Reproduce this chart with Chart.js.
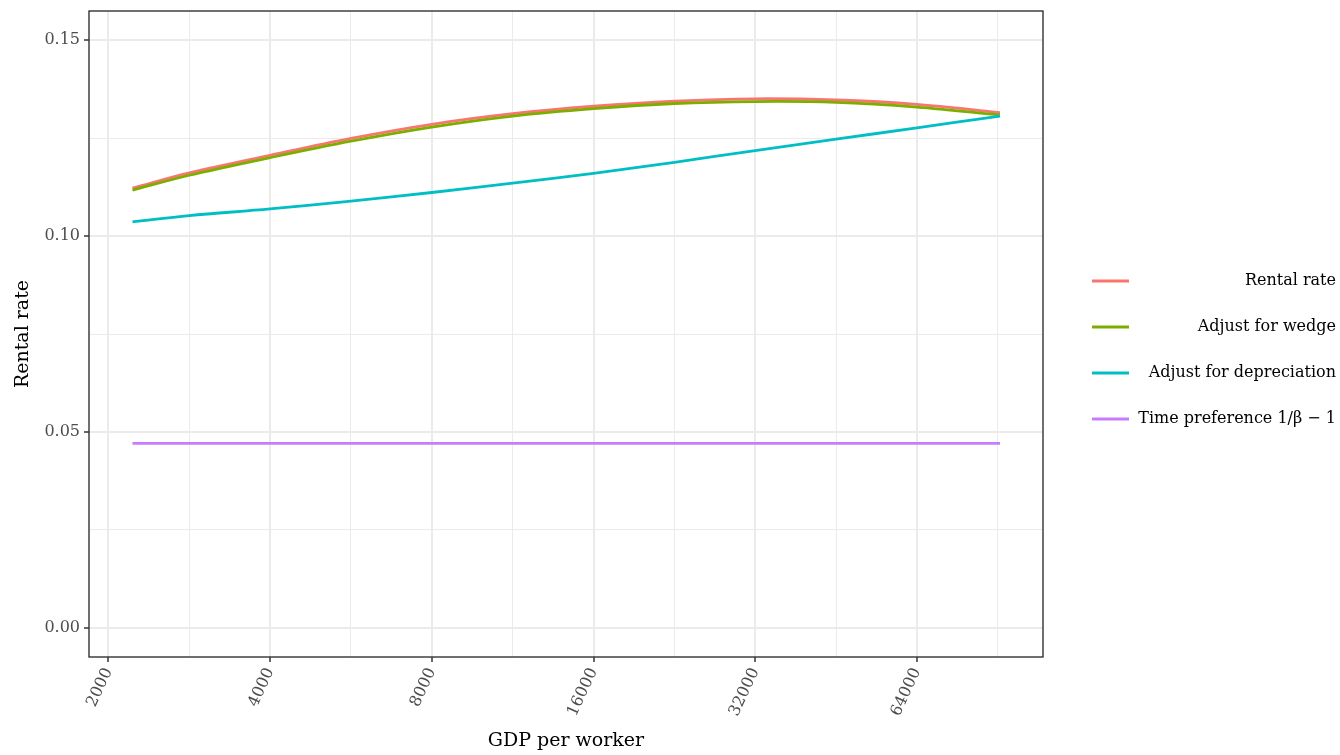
<!DOCTYPE html>
<html>
<head>
<meta charset="utf-8">
<title>Rental rate by GDP per worker</title>
<script src="https://cdn.jsdelivr.net/npm/chart.js@4.4.1/dist/chart.umd.min.js"></script>
<style>
  html, body { margin: 0; padding: 0; background: #fff; }
  #wrap { width: 1340px; height: 755px; }
</style>
</head>
<body>
<div id="wrap"><canvas id="rentalChart" width="1340" height="755"></canvas></div>
<script>
// GDP per worker grid the curves are evaluated on
const gdpPerWorker = [2217, 2828, 4000, 5657, 8000, 11314, 16000, 22627, 32000, 45255, 64000, 91400];

const rentalRate      = [0.1122, 0.1161, 0.1206, 0.1249, 0.1285, 0.1312, 0.1331, 0.1344, 0.1350, 0.1347, 0.1336, 0.1315];
const adjustWedge     = [0.1117, 0.1155, 0.1200, 0.1242, 0.1278, 0.1306, 0.1325, 0.1338, 0.1343, 0.1341, 0.1329, 0.1309];
const adjustDeprec    = [0.1036, 0.1052, 0.1069, 0.1089, 0.1111, 0.1135, 0.1160, 0.1188, 0.1218, 0.1247, 0.1276, 0.1306];
const timePreference  = [0.0471, 0.0471, 0.0471, 0.0471, 0.0471, 0.0471, 0.0471, 0.0471, 0.0471, 0.0471, 0.0471, 0.0471];

const seriesNames  = ['Rental rate', 'Adjust for wedge', 'Adjust for depreciation', 'Time preference 1/\u03b2 \u2212 1'];
const seriesColors = ['#F8766D', '#7CAE00', '#00BFC4', '#C77CFF'];

// axis breaks (log2 spaced on x), minor lines halfway between
const xMajor = [2000, 4000, 8000, 16000, 32000, 64000];
const xMinor = [2828.43, 5656.85, 11313.7, 22627.4, 45254.8, 90509.7];
const yMajor = [0, 0.05, 0.10, 0.15];
const yMinor = [0.025, 0.075, 0.125];

const FONT = '"DejaVu Serif", serif';

function toPoints(ys) {
  return gdpPerWorker.map((x, i) => ({ x: x, y: ys[i] }));
}

const allSeries = [rentalRate, adjustWedge, adjustDeprec, timePreference];
const datasets = allSeries.map((ys, i) => ({
  label: seriesNames[i],
  data: toPoints(ys),
  borderColor: seriesColors[i],
  backgroundColor: seriesColors[i],
  borderWidth: 2.8,
  pointRadius: 0,
  fill: false,
  tension: 0.35,
  order: allSeries.length - i
}));

const isMajorX = v => xMajor.some(m => Math.abs(m - v) < 1);
const isMajorY = v => yMajor.some(m => Math.abs(m - v) < 1e-6);

// panel border + right-hand legend, ggplot style
const panelAndLegend = {
  id: 'panelAndLegend',
  afterDraw(chart) {
    const ctx = chart.ctx;
    const a = chart.chartArea;
    ctx.save();
    ctx.strokeStyle = '#333333';
    ctx.lineWidth = 1.4;
    ctx.strokeRect(a.left, a.top, a.right - a.left, a.bottom - a.top);

    const rowY = [281, 327, 373, 419];
    ctx.font = '16px ' + FONT;
    ctx.textAlign = 'right';
    ctx.textBaseline = 'middle';
    seriesNames.forEach((name, i) => {
      ctx.strokeStyle = seriesColors[i];
      ctx.lineWidth = 3;
      ctx.beginPath();
      ctx.moveTo(1092, rowY[i]);
      ctx.lineTo(1129, rowY[i]);
      ctx.stroke();
      ctx.fillStyle = '#000000';
      ctx.fillText(name, 1336, rowY[i]);
    });
    ctx.restore();
  }
};

new Chart(document.getElementById('rentalChart'), {
  type: 'line',
  data: { datasets },
  plugins: [panelAndLegend],
  options: {
    responsive: false,
    animation: false,
    layout: { padding: { top: 11, right: 297, left: 0, bottom: 0 } },
    plugins: { legend: { display: false }, tooltip: { enabled: false } },
    scales: {
      x: {
        type: 'logarithmic',
        min: 1840,
        max: 109900,
        afterBuildTicks(scale) {
          scale.ticks = xMajor.concat(xMinor).sort((p, q) => p - q).map(v => ({ value: v }));
        },
        afterFit(scale) { scale.height = 98; },
        border: { display: false },
        grid: {
          color: '#EBEBEB',
          lineWidth: c => isMajorX(c.tick.value) ? 2 : 1,
          tickColor: c => isMajorX(c.tick.value) ? '#333333' : 'rgba(0,0,0,0)',
          tickWidth: 1.5,
          tickLength: 5
        },
        ticks: {
          autoSkip: false,
          minRotation: 65,
          maxRotation: 65,
          padding: 3,
          color: '#4D4D4D',
          font: { family: FONT, size: 16 },
          callback: v => isMajorX(v) ? String(Math.round(v)) : ''
        },
        title: {
          display: true,
          text: 'GDP per worker',
          color: '#000000',
          font: { family: FONT, size: 19 },
          padding: { top: 0, bottom: 3 }
        }
      },
      y: {
        type: 'linear',
        min: -0.0074,
        max: 0.1574,
        afterBuildTicks(scale) {
          scale.ticks = yMajor.concat(yMinor).sort((p, q) => p - q).map(v => ({ value: v }));
        },
        afterFit(scale) {
          scale.width = 89;
          // keep tick label overhang from pushing the panel down
          scale.paddingTop = 0;
          scale.paddingBottom = 0;
        },
        border: { display: false },
        grid: {
          color: '#EBEBEB',
          lineWidth: c => isMajorY(c.tick.value) ? 2 : 1,
          tickColor: c => isMajorY(c.tick.value) ? '#333333' : 'rgba(0,0,0,0)',
          tickWidth: 1.5,
          tickLength: 5
        },
        ticks: {
          padding: 4,
          color: '#4D4D4D',
          font: { family: FONT, size: 16 },
          callback: v => isMajorY(v) ? v.toFixed(2) : ''
        },
        title: {
          display: true,
          text: 'Rental rate',
          color: '#000000',
          font: { family: FONT, size: 19 },
          padding: { top: 12, bottom: 0 }
        }
      }
    }
  }
});
</script>
</body>
</html>
